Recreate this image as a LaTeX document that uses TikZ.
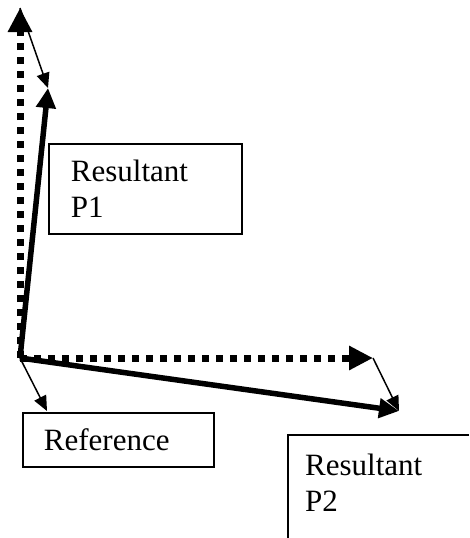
\documentclass[tikz,border=0pt]{standalone}
\usepackage{fontspec}
\setmainfont{Liberation Serif}
\usetikzlibrary{arrows.meta}
\begin{document}
\begin{tikzpicture}[x=1pt,y=-1pt,
  dotarrow/.style={line width=7pt, dash pattern=on 7pt off 7pt, -{Triangle[length=24pt,width=23pt]}},
  solidarrow/.style={line width=5.5pt, -{Triangle[length=20pt,width=19pt]}},
  thinarrow/.style={line width=1.5pt, -{Triangle[length=15pt,width=13pt]}},
  labelbox/.style={draw, line width=1.8pt, anchor=north west, align=left, inner ysep=0pt, font=\fontsize{31}{36}\selectfont},
  plainlabel/.style={anchor=north west, align=left, inner sep=0pt, font=\fontsize{31}{36}\selectfont},
  boxline/.style={line width=1.8pt}]
\useasboundingbox (0,0) rectangle (469,538);
\coordinate (O) at (20,358);
\coordinate (V) at (20,8);
\coordinate (H) at (373,358);
\coordinate (P1) at (48,88);
\coordinate (P2) at (399,411);
\coordinate (R) at (47,411);
% dotted reference axes
\draw[dotarrow] (O) -- (V);
\draw[dotarrow] (O) -- (H);
% resultants
\draw[solidarrow] (O) -- (P1);
\draw[solidarrow] (O) -- (P2);
% thin arrows
\draw[thinarrow] (V) -- (P1);
\draw[thinarrow] (H) -- (P2);
\draw[thinarrow] (O) -- (R);
% boxes
\node[labelbox, minimum width=193pt, minimum height=90pt, text width=149pt, inner xsep=22pt] (b1) at (48,143) {Resultant\\P1};
\node[labelbox, minimum width=191pt, minimum height=54pt, text width=149pt, inner xsep=21pt] (b2) at (22,412) {Reference};
\coordinate (c2) at (288,435);
\coordinate (c2r) at (469,435);
\coordinate (c2b) at (288,538);
\draw[boxline] (c2r) -- (c2) -- (c2b);
\node[plainlabel] (b3) at (305,454) {Resultant\\P2};
\end{tikzpicture}
\end{document}
